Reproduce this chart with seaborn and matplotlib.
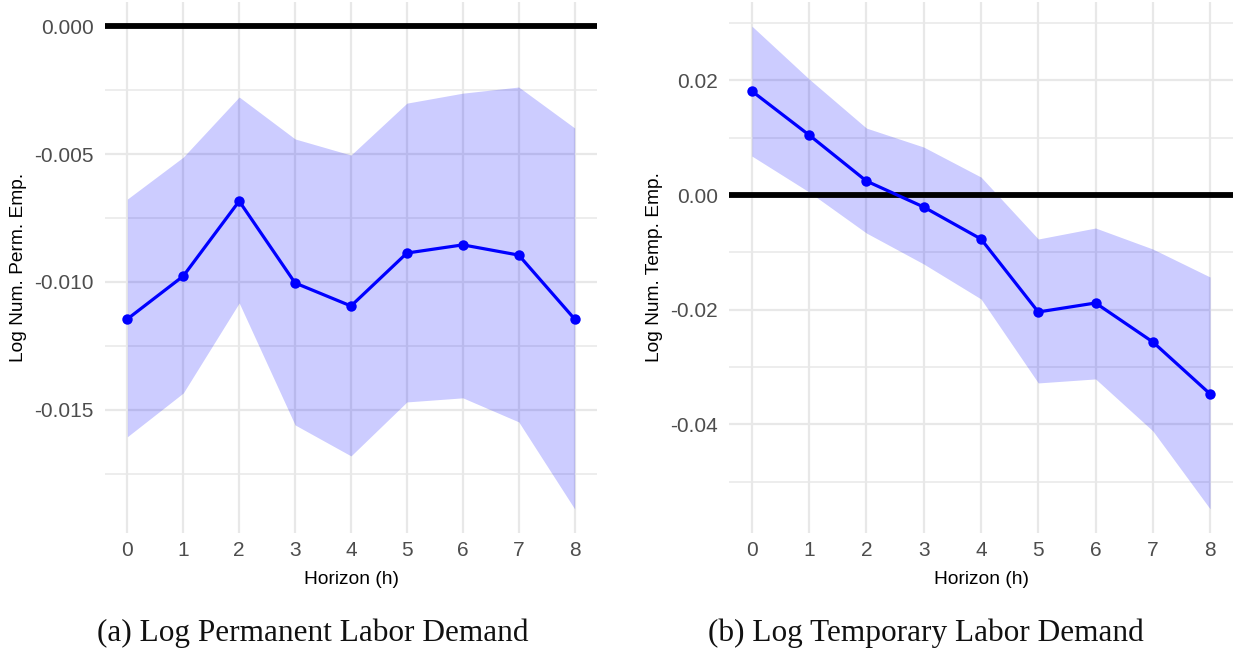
import numpy as np
import pandas as pd
import matplotlib
matplotlib.use("Agg")
import matplotlib.pyplot as plt
import seaborn as sns
from matplotlib.ticker import MultipleLocator

horizon = [0, 1, 2, 3, 4, 5, 6, 7, 8]

perm_est = [-0.01145, -0.00977, -0.00684, -0.01004, -0.01094, -0.00887, -0.00855, -0.00895, -0.01145]
perm_hi = [-0.00676, -0.00512, -0.00277, -0.00441, -0.00504, -0.00301, -0.00262, -0.00238, -0.00398]
perm_lo = [-0.01605, -0.01434, -0.01082, -0.01559, -0.01680, -0.01469, -0.01453, -0.01547, -0.01887]

temp_est = [0.01813, 0.01046, 0.00244, -0.00209, -0.00767, -0.02040, -0.01883, -0.02563, -0.03470]
temp_hi = [0.02947, 0.02023, 0.01168, 0.00837, 0.00314, -0.00767, -0.00575, -0.00942, -0.01430]
temp_lo = [0.00680, 0.00052, -0.00663, -0.01203, -0.01813, -0.03278, -0.03208, -0.04115, -0.05475]

perm_ticks = [0.000, -0.005, -0.010, -0.015]
perm_ticklabels = ["0.000", "-0.005", "-0.010", "-0.015"]
temp_ticks = [0.02, 0.00, -0.02, -0.04]
temp_ticklabels = ["0.02", "0.00", "-0.02", "-0.04"]

sns.set_style("white")
plt.rcParams['font.family'] = ['Liberation Sans', 'DejaVu Sans']

W, H = 1235, 656
fig = plt.figure(figsize=(W / 100, H / 100), dpi=100)

def make_ax(x0, x1, y0, y1):
    return fig.add_axes([x0 / W, 1 - y1 / H, (x1 - x0) / W, (y1 - y0) / H])

ax1 = make_ax(105, 597, 2, 533)
ax2 = make_ax(729, 1233, 2, 533)

panels = [
    (ax1, perm_est, perm_hi, perm_lo, perm_ticks, perm_ticklabels, 0.0025,
     "Log Num. Perm. Emp.", "(a) Log Permanent Labor Demand", 313),
    (ax2, temp_est, temp_hi, temp_lo, temp_ticks, temp_ticklabels, 0.01,
     "Log Num. Temp. Emp.", "(b) Log Temporary Labor Demand", 926),
]

for ax, est, hi, lo, ticks, tlabels, minor, ylab, cap, cx in panels:
    df = pd.DataFrame({"h": horizon, "est": est, "hi": hi, "lo": lo})
    ax.fill_between(df["h"], df["lo"], df["hi"], color="#0000FF", alpha=0.2, linewidth=0, zorder=2)
    ax.axhline(0, color="black", linewidth=4.2, zorder=3)
    sns.lineplot(data=df, x="h", y="est", ax=ax, color="#0000FF", linewidth=2.3,
                 marker="o", markersize=7.5, markeredgewidth=0, zorder=4)
    allv = np.array(hi + lo + [0.0])
    rng = allv.max() - allv.min()
    ax.set_ylim(allv.min() - 0.05 * rng, allv.max() + 0.05 * rng)
    ax.set_xlim(-0.4, 8.4)
    ax.set_xticks(horizon)
    ax.set_xticklabels([str(h) for h in horizon])
    ax.set_yticks(ticks)
    ax.set_yticklabels(tlabels)
    ax.yaxis.set_minor_locator(MultipleLocator(minor))
    ax.grid(which="major", color="#E8E8E8", linewidth=1.6, zorder=0)
    ax.grid(which="minor", axis="y", color="#E8E8E8", linewidth=1.1, zorder=0)
    ax.set_axisbelow(True)
    for s in ax.spines.values():
        s.set_visible(False)
    ax.tick_params(axis="both", which="both", length=0, labelsize=15, colors="#4D4D4D")
    ax.tick_params(axis="x", pad=6)
    ax.tick_params(axis="y", pad=8)
    ax.set_xlabel("Horizon (h)", fontsize=13.8, color="black", labelpad=7.5)
    ax.set_ylabel(ylab, fontsize=13.8, color="black", labelpad=5)
    fig.text(cx / W, 1 - 633 / H, cap, ha="center", va="center",
             fontsize=22.5, family=["Liberation Serif", "DejaVu Serif"], color="#111111")

fig.savefig("out.png", dpi=100)
